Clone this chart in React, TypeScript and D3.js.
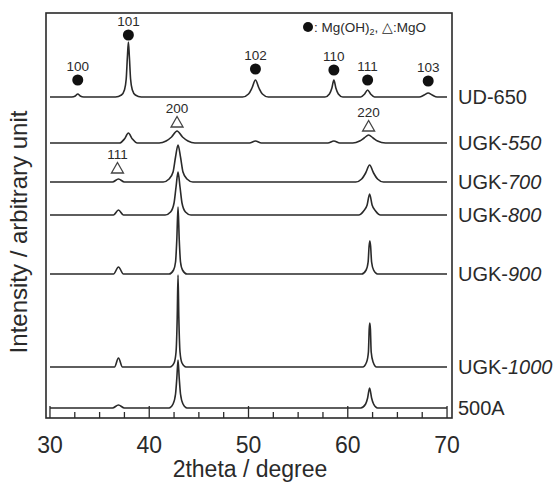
import React, { useRef, useEffect } from "react";
import * as d3 from "d3";

// sample names and vertical offsets (arbitrary units)
const samples = ["UD-650", "UGK-550", "UGK-700", "UGK-800", "UGK-900", "UGK-1000", "500A"];
const offsets = [321, 275, 236, 203, 144, 51, 10];

// patterns: [2theta, intensity above own baseline]
const ud650 = [
  [30, 0], [32.2, 0], [32.55, 1], [32.8, 3], [33.05, 1], [33.4, 0],
  [36.6, 0], [37.2, 2], [37.5, 7], [37.68, 18], [37.8, 40], [37.9, 55], [38.0, 40], [38.12, 18], [38.3, 7], [38.6, 2], [39.2, 0],
  [49.4, 0], [50.0, 3], [50.35, 9], [50.7, 17], [51.05, 9], [51.4, 3], [52.0, 0],
  [57.7, 0], [58.15, 3], [58.4, 9], [58.6, 17], [58.8, 9], [59.05, 3], [59.5, 0],
  [61.3, 0], [61.7, 3], [62.0, 7], [62.3, 3], [62.7, 0],
  [67.2, 0], [67.7, 2], [68.1, 4], [68.5, 2], [69.0, 0], [70, 0],
];
const ugk550 = [
  [30, 0], [37.0, 0], [37.5, 4], [37.9, 10], [38.3, 4], [38.8, 0],
  [41.0, 0], [41.7, 2], [42.25, 6], [42.8, 12], [43.35, 6], [43.9, 2], [44.6, 0],
  [50.1, 0], [50.7, 2], [51.3, 0],
  [58.0, 0], [58.6, 2], [59.2, 0],
  [60.5, 0], [61.2, 2], [61.65, 5], [62.1, 8], [62.55, 5], [63.0, 2], [63.8, 0], [70, 0],
];
const ugk700 = [
  [30, 0], [36.3, 0], [36.9, 3], [37.5, 0],
  [41.4, 0], [42.0, 3], [42.4, 10], [42.65, 25], [42.9, 37], [43.15, 25], [43.4, 10], [43.8, 3], [44.4, 0],
  [60.8, 0], [61.4, 3], [61.8, 9], [62.2, 17], [62.6, 9], [63.0, 3], [63.6, 0], [70, 0],
];
const ugk800 = [
  [30, 0], [36.4, 0], [36.9, 5], [37.4, 0],
  [41.6, 0], [42.15, 3], [42.5, 12], [42.7, 28], [42.9, 43], [43.1, 28], [43.3, 12], [43.65, 3], [44.2, 0],
  [61.1, 0], [61.6, 4], [61.95, 10], [62.2, 21], [62.45, 10], [62.8, 4], [63.3, 0], [70, 0],
];
const ugk900 = [
  [30, 0], [36.4, 0], [36.9, 7], [37.4, 0],
  [42.0, 0], [42.45, 4], [42.65, 12], [42.78, 35], [42.9, 67], [43.02, 35], [43.15, 12], [43.35, 4], [43.8, 0],
  [61.4, 0], [61.85, 4], [62.05, 12], [62.15, 28], [62.22, 33], [62.3, 28], [62.4, 12], [62.6, 4], [63.0, 0], [70, 0],
];
const ugk1000 = [
  [30, 0], [36.5, 0], [36.9, 9], [37.3, 0],
  [42.1, 0], [42.5, 4], [42.7, 15], [42.82, 50], [42.9, 92], [42.98, 50], [43.1, 15], [43.3, 4], [43.7, 0],
  [61.5, 0], [61.9, 5], [62.08, 15], [62.16, 38], [62.22, 44], [62.28, 38], [62.36, 15], [62.55, 5], [62.9, 0], [70, 0],
];
const s500a = [
  [30, 0], [36.3, 0], [36.9, 3], [37.5, 0],
  [42.0, 0], [42.4, 4], [42.65, 14], [42.78, 30], [42.9, 48], [43.02, 30], [43.15, 14], [43.4, 4], [43.8, 0],
  [61.3, 0], [61.8, 4], [62.0, 10], [62.2, 20], [62.4, 10], [62.6, 4], [63.0, 0], [70, 0],
];
const patterns = [ud650, ugk550, ugk700, ugk800, ugk900, ugk1000, s500a];

// peak markers: [hkl, 2theta, intensity, phase]
const markers = [
  ["100", 32.8, 338, "MgOH2"],
  ["101", 37.9, 383, "MgOH2"],
  ["102", 50.7, 349, "MgOH2"],
  ["110", 58.6, 348, "MgOH2"],
  ["111", 62.0, 338, "MgOH2"],
  ["103", 68.1, 337, "MgOH2"],
  ["200", 42.8, 296, "MgO"],
  ["220", 62.1, 292, "MgO"],
  ["111", 36.8, 250, "MgO"],
];

const xTicks = [30, 40, 50, 60, 70];
const xMinor = d3.range(30, 70.01, 2.5);

const App = () => {
  const svgRef = useRef();

  useEffect(() => {
    const svg = d3.select(svgRef.current);
    svg.selectAll("*").remove();

    const width = 558;
    const height = 485;
    const margin = { top: 13, right: 106, bottom: 67, left: 46 };
    const ink = "#2a2a2a";
    const font = "'Liberation Sans', Arial, sans-serif";

    const x = d3.scaleLinear().domain([29.6, 70.5]).range([margin.left, width - margin.right]);
    const y = d3.scaleLinear().domain([0, 405]).range([height - margin.bottom, margin.top]);

    const line = d3
      .line()
      .x((d) => x(d[0]))
      .y((d) => y(d[1]))
      .curve(d3.curveMonotoneX);

    svg
      .append("g")
      .selectAll("path")
      .data(patterns)
      .join("path")
      .attr("d", (d, i) => line(d.map((p) => [p[0], p[1] + offsets[i]])))
      .attr("fill", "none")
      .attr("stroke", ink)
      .attr("stroke-width", 1.6)
      .attr("stroke-linejoin", "round");

    // frame
    svg
      .append("rect")
      .attr("x", margin.left)
      .attr("y", margin.top)
      .attr("width", width - margin.left - margin.right)
      .attr("height", height - margin.top - margin.bottom)
      .attr("fill", "none")
      .attr("stroke", ink)
      .attr("stroke-width", 1.6);

    // bottom ticks, inward
    const yb = height - margin.bottom;
    svg
      .append("g")
      .selectAll("line")
      .data(xMinor)
      .join("line")
      .attr("x1", (d) => x(d))
      .attr("x2", (d) => x(d))
      .attr("y1", yb)
      .attr("y2", (d) => (d % 10 === 0 ? yb - 12 : yb - 6))
      .attr("stroke", ink)
      .attr("stroke-width", 1.3);

    svg
      .append("g")
      .selectAll("text")
      .data(xTicks)
      .join("text")
      .attr("x", (d) => x(d))
      .attr("y", yb + 35)
      .attr("text-anchor", "middle")
      .attr("font-family", font)
      .attr("font-size", 23)
      .attr("fill", ink)
      .text((d) => d);

    svg
      .append("text")
      .attr("x", 250)
      .attr("y", 477)
      .attr("text-anchor", "middle")
      .attr("font-family", font)
      .attr("font-size", 23)
      .attr("fill", ink)
      .text("2theta / degree");

    svg
      .append("text")
      .attr("transform", "translate(27,232) rotate(-90)")
      .attr("text-anchor", "middle")
      .attr("font-family", font)
      .attr("font-size", 24)
      .attr("fill", ink)
      .text("Intensity / arbitrary unit");

    // sample names at the right
    const names = svg
      .append("g")
      .selectAll("text")
      .data(samples)
      .join("text")
      .attr("x", width - margin.right + 6)
      .attr("y", (d, i) => y(offsets[i]) + 7)
      .attr("font-family", font)
      .attr("font-size", 20)
      .attr("fill", ink);
    names.append("tspan").text((d) => (d.startsWith("UGK-") ? "UGK-" : d));
    names
      .append("tspan")
      .attr("font-style", "italic")
      .text((d) => (d.startsWith("UGK-") ? d.slice(4) : ""));

    // peak markers
    const mk = svg.append("g").selectAll("g").data(markers).join("g")
      .attr("transform", (d) => `translate(${x(d[1])},${y(d[2])})`);
    mk.filter((d) => d[3] === "MgOH2")
      .append("circle")
      .attr("r", 5.5)
      .attr("fill", "#111");
    mk.filter((d) => d[3] === "MgO")
      .append("path")
      .attr("d", "M0,-5.5L6,5L-6,5Z")
      .attr("fill", "#fff")
      .attr("stroke", "#444")
      .attr("stroke-width", 1.3);
    mk.append("text")
      .attr("y", -9)
      .attr("text-anchor", "middle")
      .attr("font-family", font)
      .attr("font-size", 13.5)
      .attr("fill", ink)
      .text((d) => d[0]);

    // legend
    const leg = svg.append("g").attr("transform", "translate(308,28)");
    leg.append("circle").attr("r", 5).attr("cx", 0).attr("cy", -1).attr("fill", "#111");
    const lt = leg
      .append("text")
      .attr("x", 6)
      .attr("y", 4)
      .attr("font-family", font)
      .attr("font-size", 13.5)
      .attr("fill", ink);
    lt.append("tspan").text(": Mg(OH)");
    lt.append("tspan").attr("font-size", 9).attr("dy", 3).text("2");
    lt.append("tspan").attr("dy", -3).text(", \u25B3:MgO");
  }, []);

  return (
    <svg
      ref={svgRef}
      width={558}
      height={485}
      style={{ position: "absolute", left: 0, top: 0, background: "#fff" }}
    ></svg>
  );
};

export default App;
